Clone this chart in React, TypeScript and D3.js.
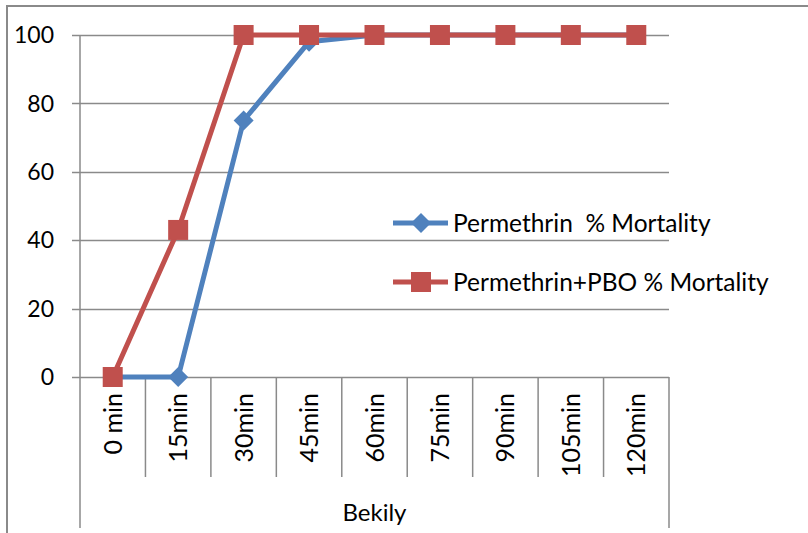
import React, { useEffect, useRef } from 'react';
import * as d3 from 'd3';

const categories = ['0 min', '15min', '30min', '45min', '60min', '75min', '90min', '105min', '120min'];
const permethrin = [0, 0, 75, 98, 100, 100, 100, 100, 100];
const permethrinPbo = [0, 43, 100, 100, 100, 100, 100, 100, 100];
const yTicks = [0, 20, 40, 60, 80, 100];
const seriesNames = ['Permethrin  % Mortality', 'Permethrin+PBO % Mortality'];
const groupLabel = 'Bekily';

const BLUE = '#4F81BD';
const RED = '#C0504D';
const GRID = '#8a8a8a';
const FONT = 'Lato, Calibri, sans-serif';

const App: React.FC = () => {
  const ref = useRef<SVGSVGElement | null>(null);

  useEffect(() => {
    if (!ref.current) return;
    const svg = d3.select(ref.current);
    svg.selectAll('*').remove();

    const left = 80;
    const right = 669;
    const top = 35;
    const bottom = 377;

    const x = d3.scaleBand<string>().domain(categories).range([left, right]).padding(0);
    const y = d3.scaleLinear().domain([0, 100]).range([bottom, top]);
    const cx = (c: string) => (x(c) || 0) + x.bandwidth() / 2;

    // outer chart border
    svg
      .append('rect')
      .attr('x', 7)
      .attr('y', 6)
      .attr('width', 900)
      .attr('height', 600)
      .attr('fill', 'none')
      .attr('stroke', GRID)
      .attr('stroke-width', 2);

    // horizontal gridlines + ticks
    svg
      .selectAll('.grid')
      .data(yTicks)
      .enter()
      .append('line')
      .attr('x1', left - 8)
      .attr('x2', right)
      .attr('y1', (d) => Math.round(y(d)) + 0.5)
      .attr('y2', (d) => Math.round(y(d)) + 0.5)
      .attr('stroke', GRID)
      .attr('stroke-width', 1.5);

    svg
      .selectAll('.ylab')
      .data(yTicks)
      .enter()
      .append('text')
      .attr('x', 54)
      .attr('y', (d) => y(d))
      .attr('dy', '0.36em')
      .attr('text-anchor', 'end')
      .attr('font-family', FONT)
      .attr('font-size', 23)
      .attr('fill', '#000')
      .text((d) => d);

    // y axis
    svg
      .append('line')
      .attr('x1', left)
      .attr('x2', left)
      .attr('y1', top)
      .attr('y2', 528)
      .attr('stroke', GRID)
      .attr('stroke-width', 1.5);

    // category separators
    categories.forEach((c, i) => {
      const xe = (x(c) || 0) + x.bandwidth();
      svg
        .append('line')
        .attr('x1', xe)
        .attr('x2', xe)
        .attr('y1', bottom)
        .attr('y2', i === categories.length - 1 ? 528 : 477)
        .attr('stroke', GRID)
        .attr('stroke-width', 1.5);
    });

    // category labels
    svg
      .selectAll('.xlab')
      .data(categories)
      .enter()
      .append('text')
      .attr('transform', (d) => `translate(${cx(d)},393) rotate(-90)`)
      .attr('dy', '0.36em')
      .attr('text-anchor', 'end')
      .attr('font-family', FONT)
      .attr('font-size', 25)
      .attr('fill', '#000')
      .text((d) => d);

    svg
      .append('text')
      .attr('x', (left + right) / 2)
      .attr('y', 521)
      .attr('text-anchor', 'middle')
      .attr('font-family', FONT)
      .attr('font-size', 24)
      .attr('fill', '#000')
      .text(groupLabel);

    const line = d3
      .line<number>()
      .x((_, i) => cx(categories[i]))
      .y((d) => y(d));

    const diamond = (g: any, px: number, py: number) =>
      g
        .append('path')
        .attr('d', `M${px},${py - 10}L${px + 10},${py}L${px},${py + 10}L${px - 10},${py}Z`)
        .attr('fill', BLUE);
    const square = (g: any, px: number, py: number) =>
      g
        .append('rect')
        .attr('x', px - 10)
        .attr('y', py - 10)
        .attr('width', 20)
        .attr('height', 20)
        .attr('fill', RED);

    svg
      .append('path')
      .datum(permethrin)
      .attr('d', line)
      .attr('fill', 'none')
      .attr('stroke', BLUE)
      .attr('stroke-width', 5)
      .attr('stroke-linejoin', 'round');
    permethrin.forEach((v, i) => diamond(svg, cx(categories[i]), y(v)));

    svg
      .append('path')
      .datum(permethrinPbo)
      .attr('d', line)
      .attr('fill', 'none')
      .attr('stroke', RED)
      .attr('stroke-width', 5)
      .attr('stroke-linejoin', 'round');
    permethrinPbo.forEach((v, i) => square(svg, cx(categories[i]), y(v)));

    // legend
    const legendY = [223, 282];
    const colors = [BLUE, RED];
    seriesNames.forEach((name, i) => {
      const ly = legendY[i];
      svg
        .append('line')
        .attr('x1', 393)
        .attr('x2', 448)
        .attr('y1', ly)
        .attr('y2', ly)
        .attr('stroke', colors[i])
        .attr('stroke-width', 5);
      if (i === 0) diamond(svg, 421, ly);
      else square(svg, 421, ly);
      svg
        .append('text')
        .attr('x', 453)
        .attr('y', ly)
        .attr('dy', '0.36em')
        .attr('font-family', FONT)
        .attr('font-size', 24.5)
        .attr('fill', '#000')
        .style('white-space', 'pre')
        .text(name);
    });
  }, []);

  return (
    <svg
      ref={ref}
      width={808}
      height={533}
      style={{ position: 'absolute', left: 0, top: 0, background: '#fff' }}
    />
  );
};

export default App;
